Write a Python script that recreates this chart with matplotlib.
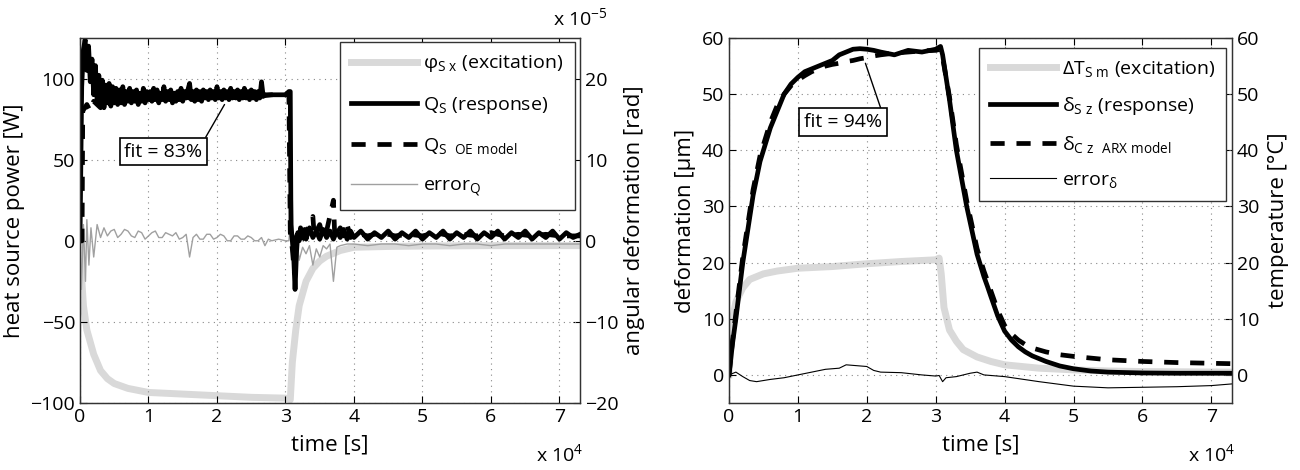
import matplotlib
matplotlib.use("Agg")
import matplotlib.pyplot as plt
from matplotlib.lines import Line2D
import numpy as np

plt.rcParams['font.family'] = ['Open Sans', 'DejaVu Sans']
plt.rcParams['mathtext.fontset'] = 'custom'
plt.rcParams['mathtext.rm'] = 'Open Sans'
plt.rcParams['mathtext.it'] = 'Open Sans'
plt.rcParams['mathtext.default'] = 'regular'

# ---------------- data: left chart (time in 1e4 s) ----------------
# heating phase sampled every 0.025e4 s (0 ... 2.7)
q_heat_t = list(np.round(np.arange(0, 2.7001, 0.025), 3))
q_heat = [0, 95, 118, 124, 105, 120, 98, 112, 90, 108, 86, 102, 84, 99, 82, 96,
          85, 97, 83, 95, 86, 94, 84, 93, 85, 95, 84, 92, 86, 94, 85, 92,
          86, 93, 84, 91, 86, 94, 85, 92, 87,
          92, 86, 94, 87, 93, 85, 91, 87, 95, 86, 92, 87, 93, 85, 91, 86,
          92, 87, 94, 86, 92, 88, 93, 97, 87, 92, 86, 93, 87, 92, 86, 93,
          88, 92, 87, 93, 88, 92, 87, 95, 88, 92, 87, 93, 88, 92, 87, 94,
          88, 92, 88, 93, 87, 92, 88, 94, 88, 92, 87, 93, 88, 92, 87, 92,
          88, 98, 89, 90]
q_cool_t = [2.80, 2.90, 3.00, 3.05, 3.07, 3.08, 3.10, 3.12, 3.14, 3.16, 3.18, 3.20, 3.22, 3.25,
            3.28, 3.30, 3.35, 3.40, 3.45, 3.50, 3.55, 3.60, 3.65, 3.70, 3.75, 3.80, 3.85, 3.90,
            3.95, 4.00, 4.10, 4.20, 4.30, 4.40, 4.50, 4.60, 4.70, 4.80, 4.90, 5.00, 5.10, 5.20,
            5.30, 5.40, 5.50, 5.60, 5.70, 5.80, 5.90, 6.00, 6.10, 6.20, 6.30, 6.40, 6.50, 6.60,
            6.70, 6.80, 6.90, 7.00, 7.10, 7.20, 7.30]
q_cool = [90, 90, 90, 92, 92, 10, 0, -10, -30, -8, 5, 0, 8, 2,
          7, 1, 8, 2, 6, 1, 7, 2, 6, 1, 6, 2, 7, 1,
          6, 2, 6, 1, 5, 2, 6, 1, 5, 2, 6, 1, 5, 2,
          6, 1, 5, 2, 6, 1, 5, 2, 6, 1, 5, 2, 6, 1,
          5, 2, 6, 1, 5, 2, 4]

q_model_t = [0.00, 0.03, 0.04, 0.10, 0.15, 0.20, 0.30, 0.40, 0.50, 0.60, 0.80, 1.00, 1.20, 1.40,
             1.60, 1.80, 2.00, 2.20, 2.40, 2.60, 2.80, 3.05, 3.07, 3.10, 3.13, 3.16, 3.20, 3.30,
             3.40, 3.42, 3.50, 3.55, 3.60, 3.70, 3.72, 3.80, 3.85, 3.90, 3.95, 4.00, 4.20, 4.40,
             4.60, 4.80, 5.00, 5.20, 5.40, 5.60, 5.80, 6.00, 6.20, 6.40, 6.60, 6.80, 7.00, 7.30]
q_model = [0, 0, 80, 84, 80, 86, 82, 88, 85, 90, 87, 89, 88, 90,
           88, 89, 90, 89, 90, 89, 90, 90, 5, -5, -20, 3, -2, 5,
           15, 3, 10, 2, 6, 25, 2, 8, 3, 10, 2, 5, 3, 5,
           3, 4, 3, 5, 3, 4, 3, 5, 3, 4, 3, 4, 3, 3]

err_q_t = [0.00, 0.02, 0.05, 0.08, 0.10, 0.13, 0.16, 0.20, 0.25, 0.30, 0.35, 0.40, 0.45, 0.50,
           0.55, 0.60, 0.65, 0.70, 0.75, 0.80, 0.85, 0.90, 0.95, 1.00, 1.05, 1.10, 1.15, 1.20,
           1.25, 1.30, 1.35, 1.40, 1.45, 1.50, 1.55, 1.60, 1.65, 1.70, 1.75, 1.80, 1.85, 1.90,
           1.95, 2.00, 2.05, 2.10, 2.15, 2.20, 2.25, 2.30, 2.35, 2.40, 2.45, 2.50, 2.55, 2.60,
           2.65, 2.70, 2.75, 2.80, 2.90, 3.00, 3.05, 3.10, 3.13, 3.16, 3.20, 3.25, 3.30, 3.35,
           3.40, 3.45, 3.50, 3.55, 3.60, 3.65, 3.70, 3.75, 3.80, 3.90, 4.00, 4.20, 4.40, 4.60,
           4.80, 5.00, 5.20, 5.40, 5.60, 5.80, 6.00, 6.20, 6.40, 6.60, 6.80, 7.00, 7.30]
err_q = [0, -30, 10, -25, 13, -15, 8, -10, 10, 2, 8, 3, 6, 7,
         2, 4, 7, 6, 3, 2, 6, 5, 1, 3, 5, 6, 2, 2,
         5, 4, 3, 5, 1, 2, 4, -10, 2, 4, 1, 1, 4, 4,
         1, 2, 4, 3, 0, 0, 3, 3, 1, 1, 3, 2, 0, 0,
         2, -3, 1, 0, 1, 0, 0, 25, -20, 5, -12, -4, -8, -3,
         -15, -5, -10, -3, -5, -2, -25, -4, -3, -2, -2, -3, -2, -2,
         -3, -2, -2, -3, -2, -2, -3, -2, -2, -2, -2, -2, -2]

phi_t = [0.00, 0.02, 0.05, 0.10, 0.15, 0.20, 0.30, 0.40, 0.50, 0.70, 1.00, 1.50, 2.00, 2.50,
         3.00, 3.07, 3.10, 3.15, 3.20, 3.30, 3.40, 3.50, 3.60, 3.80, 4.00, 4.50, 5.00, 6.00, 7.30]
phi_sx = [0, -4, -8, -11, -12.5, -14, -16, -17, -17.6, -18.2, -18.7, -18.9, -19.1, -19.3,
          -19.4, -19.6, -15, -11, -8, -5, -3.4, -2.5, -1.9, -1.2, -0.8, -0.7, -0.65, -0.6, -0.6]

# ---------------- data: right chart ----------------
d_t = [0.00, 0.05, 0.10, 0.15, 0.20, 0.25, 0.30, 0.35, 0.40, 0.45, 0.50, 0.60, 0.70, 0.80,
       0.90, 1.00, 1.10, 1.20, 1.30, 1.40, 1.50, 1.60, 1.70, 1.80, 1.90, 2.00, 2.10, 2.20,
       2.40, 2.60, 2.80, 3.00, 3.07, 3.10, 3.20, 3.30, 3.45, 3.60, 3.70, 3.75, 3.80, 3.90,
       4.00, 4.10, 4.20, 4.30, 4.40, 4.60, 4.80, 5.00, 5.25, 5.50, 6.00, 6.50, 7.30]
delta_sz = [0, 5.5, 10, 15, 20, 24, 28, 32, 35, 38, 40, 44, 47, 50,
            51.8, 53, 54, 54.5, 55, 55.5, 56, 57, 57.5, 58, 58.1, 58, 57.8, 57.5,
            57, 57.8, 57.5, 58, 58.5, 57, 49, 40, 30, 21.5, 17.5, 15.8, 14, 10.5,
            7.8, 6.2, 5.0, 4.1, 3.4, 2.4, 1.6, 1.1, 0.7, 0.5, 0.35, 0.3, 0.3]
delta_cz_arx = [0, 6, 11, 16, 21, 25, 29, 33, 36, 39, 41, 45, 48, 50,
                51.5, 52.5, 53.3, 54, 54.5, 55, 55.3, 55.5, 55.8, 56, 56.3, 56.5, 56.8, 57,
                57.3, 57.5, 57.7, 57.8, 58, 56.5, 49.5, 41, 31, 22.5, 18.5, 16.8, 15, 11.5,
                8.8, 7.3, 6.2, 5.4, 4.8, 4.1, 3.6, 3.3, 3.0, 2.7, 2.4, 2.2, 2.0]

dT_t = [0.00, 0.05, 0.10, 0.20, 0.30, 0.50, 0.70, 1.00, 1.50, 2.00, 2.50, 3.00, 3.05, 3.08,
        3.12, 3.20, 3.30, 3.40, 3.60, 3.80, 4.00, 4.50, 5.00, 5.50, 6.00, 7.30]
dT_sm = [0, 10, 13, 15.5, 17, 18, 18.5, 19, 19.3, 19.8, 20.2, 20.5, 20.8, 18,
         12, 8, 6, 4.5, 3.2, 2.4, 1.8, 1.2, 0.9, 0.7, 0.6, 0.5]

err_d_t = [0.00, 0.10, 0.20, 0.30, 0.40, 0.50, 0.60, 0.80, 1.00, 1.20, 1.40, 1.60, 1.70, 1.80,
           2.00, 2.10, 2.20, 2.50, 2.80, 3.00, 3.05, 3.10, 3.15, 3.30, 3.50, 3.60, 3.70, 4.00,
           4.50, 5.00, 5.50, 6.00, 6.50, 7.00, 7.30]
err_delta = [0, 0.5, -0.3, -1.0, -1.2, -1.0, -0.8, -0.5, 0, 0.5, 1.0, 1.2, 1.8, 1.7,
             1.5, 0.8, 0.5, 0.4, 0, -0.2, -0.1, -1.2, -0.5, -0.3, 0.3, 0.5, 0, -0.3,
             -1.2, -2.0, -2.3, -2.2, -2.1, -1.9, -1.6]

x_ticks = [0, 1, 2, 3, 4, 5, 6, 7]
left_yticks = [-100, -50, 0, 50, 100]
left2_yticks = [-20, -10, 0, 10, 20]
right_yticks = [0, 10, 20, 30, 40, 50, 60]

# ---------------- figure ----------------
fig = plt.figure(figsize=(13, 4.7), dpi=100)
axL = fig.add_axes([80 / 1300, 1 - 403 / 470, 500 / 1300, 365 / 470])
axR = fig.add_axes([729 / 1300, 1 - 403 / 470, 503 / 1300, 365 / 470])

EXC_C = '#d9d9d9'
ERRQ_C = '#a0a0a0'
TICK_FS = 14
LAB_FS = 16
LEG_FS = 14
LW = 3.4


def style(ax):
    ax.set_xlim(0, 7.3)
    ax.set_xticks(x_ticks)
    ax.tick_params(direction='in', labelsize=TICK_FS, top=True, right=False, length=5, width=0.8)
    ax.grid(True, linestyle=(0, (1, 4)), color='#888888', lw=0.8)
    for s in ax.spines.values():
        s.set_linewidth(0.9)
        s.set_color('#333333')
    ax.set_xlabel('time [s]', fontsize=LAB_FS, labelpad=6)
    ax.text(0.96, -0.11, r'x 10$^{4}$', transform=ax.transAxes, ha='center', va='top',
            fontsize=TICK_FS)


# ---- left ----
axL2 = axL.twinx()
axL.set_zorder(2)
axL.patch.set_visible(False)
axL2.set_zorder(1)
style(axL)
axL.set_ylim(-100, 125)
axL.set_yticks(left_yticks)
axL2.set_ylim(-20, 25)
axL2.set_yticks(left2_yticks)
axL2.tick_params(direction='in', labelsize=TICK_FS, length=5, width=0.8)
for s in axL2.spines.values():
    s.set_linewidth(0.9)
    s.set_color('#333333')

axL2.plot(phi_t, phi_sx, color=EXC_C, lw=5, solid_capstyle='butt')
axL.plot(err_q_t, err_q, color=ERRQ_C, lw=1)
axL.plot(q_heat_t + q_cool_t, q_heat + q_cool, color='black', lw=LW)
axL.plot(q_model_t, q_model, color='black', lw=LW, dashes=(3, 2.5))

axL.set_ylabel('heat source power [W]', fontsize=LAB_FS, labelpad=4)
axL2.set_ylabel('angular deformation [rad]', fontsize=LAB_FS, labelpad=4)
axL.text(1.0, 1.025, r'x 10$^{-5}$', transform=axL.transAxes, ha='center', va='bottom',
         fontsize=TICK_FS)

handlesL = [Line2D([], [], color=EXC_C, lw=5),
            Line2D([], [], color='black', lw=LW),
            Line2D([], [], color='black', lw=LW, dashes=(3, 2.5)),
            Line2D([], [], color=ERRQ_C, lw=1)]
labelsL = [r'$φ_{S\ x}$ (excitation)', r'$Q_{S}$ (response)',
           r'$Q_{S\ \ OE\ model}$', r'$error_{Q}$']
legL = axL.legend(handlesL, labelsL, loc='upper right', bbox_to_anchor=(0.99, 0.99),
                  borderaxespad=0, fontsize=LEG_FS, fancybox=False, framealpha=1,
                  edgecolor='#333333', handlelength=3.4, handletextpad=0.3,
                  labelspacing=1.05, borderpad=0.6)
legL.get_frame().set_linewidth(1.0)

axL.annotate('fit = 83%', xy=(2.11, 84), xytext=(1.22, 55), ha='center', va='center',
             fontsize=TICK_FS,
             bbox=dict(boxstyle='square,pad=0.25', fc='white', ec='black', lw=1.2),
             arrowprops=dict(arrowstyle='-', color='black', lw=1, shrinkA=0, shrinkB=0,
                             relpos=(1.0, 1.0)))

# ---- right ----
axR2 = axR.twinx()
axR.set_zorder(2)
axR.patch.set_visible(False)
axR2.set_zorder(1)
style(axR)
axR.set_ylim(-5, 60)
axR.set_yticks(right_yticks)
axR2.set_ylim(-5, 60)
axR2.set_yticks(right_yticks)
axR2.tick_params(direction='in', labelsize=TICK_FS, length=5, width=0.8)
for s in axR2.spines.values():
    s.set_linewidth(0.9)
    s.set_color('#333333')

axR2.plot(dT_t, dT_sm, color=EXC_C, lw=5)
axR.plot(err_d_t, err_delta, color='black', lw=0.8)
axR.plot(d_t, delta_sz, color='black', lw=LW)
axR.plot(d_t, delta_cz_arx, color='black', lw=LW, dashes=(3, 2.5))

axR.set_ylabel('deformation [μm]', fontsize=LAB_FS, labelpad=4)
axR2.set_ylabel('temperature [°C]', fontsize=LAB_FS, labelpad=6)

handlesR = [Line2D([], [], color=EXC_C, lw=5),
            Line2D([], [], color='black', lw=LW),
            Line2D([], [], color='black', lw=LW, dashes=(3, 2.5)),
            Line2D([], [], color='black', lw=0.8)]
labelsR = [r'$ΔT_{S\ m}$ (excitation)', r'$δ_{S\ z}$ (response)',
           r'$δ_{C\ z\ \ ARX\ model}$', r'$error_{δ}$']
legR = axR.legend(handlesR, labelsR, loc='upper right', bbox_to_anchor=(0.988, 0.973),
                  borderaxespad=0, fontsize=LEG_FS, fancybox=False, framealpha=1,
                  edgecolor='#333333', handlelength=3.4, handletextpad=0.3,
                  labelspacing=0.85, borderpad=0.55)
legR.get_frame().set_linewidth(1.0)

axR.annotate('fit = 94%', xy=(1.98, 55.5), xytext=(1.66, 45), ha='center', va='center',
             fontsize=TICK_FS,
             bbox=dict(boxstyle='square,pad=0.25', fc='white', ec='black', lw=1.2),
             arrowprops=dict(arrowstyle='-', color='black', lw=1, shrinkA=0, shrinkB=0,
                             relpos=(1.0, 1.0)))

fig.savefig('out.png', dpi=100)
